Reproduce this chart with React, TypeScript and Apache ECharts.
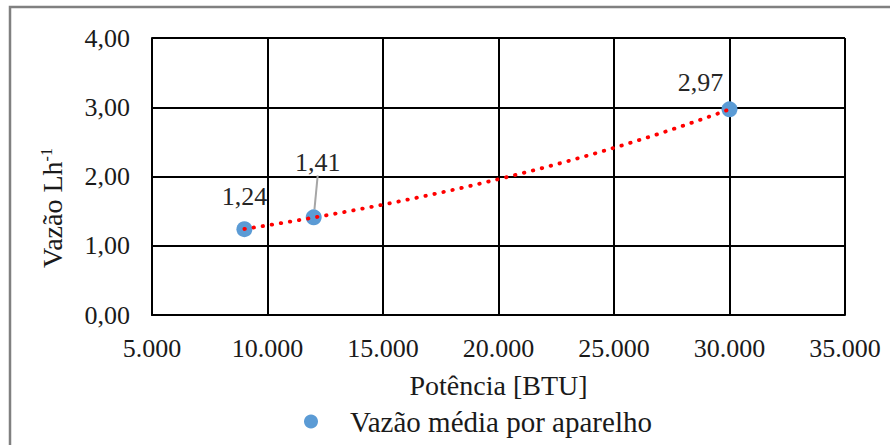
import React, { useEffect, useRef } from "react";
import * as echarts from "echarts";

const potenciaBTU = [9000, 12000, 30000];
const vazaoMedia = [1.24, 1.41, 2.97];
const xTicks = { min: 5000, max: 35000, interval: 5000 };
const yTicks = { min: 0, max: 4, interval: 1 };
const seriesName = "Vazão média por aparelho";
const xTitle = "Potência [BTU]";

const FONT = "'Liberation Serif', 'Times New Roman', serif";

// Exponential trendline (least-squares on ln y), as Excel draws it
function expTrend(xs: number[], ys: number[]) {
  const n = xs.length;
  const ly = ys.map((v) => Math.log(v));
  const mx = xs.reduce((a, b) => a + b, 0) / n;
  const my = ly.reduce((a, b) => a + b, 0) / n;
  let sxy = 0, sxx = 0;
  for (let i = 0; i < n; i++) {
    sxy += (xs[i] - mx) * (ly[i] - my);
    sxx += (xs[i] - mx) * (xs[i] - mx);
  }
  const k = sxy / sxx;
  const a = my - k * mx;
  const x0 = Math.min(...xs), x1 = Math.max(...xs);
  const pts: number[][] = [];
  const steps = 60;
  for (let i = 0; i <= steps; i++) {
    const x = x0 + ((x1 - x0) * i) / steps;
    pts.push([x, Math.exp(a + k * x)]);
  }
  return pts;
}

const fmtX = (v: number) => String(v).replace(/\B(?=(\d{3})+(?!\d))/g, ".");
const fmtY = (v: number) => v.toFixed(2).replace(".", ",");

export default function App() {
  const ref = useRef<HTMLDivElement>(null);
  useEffect(() => {
    document.body.style.margin = "0";
    const chart = echarts.init(ref.current!, null, { renderer: "svg" });
    const labelOffsets: Record<number, [number, number]> = {
      0: [0, 0],
      1: [4, -22],
      2: [-29, 6],
    };
    chart.setOption({
      animation: false,
      backgroundColor: "#ffffff",
      textStyle: { fontFamily: FONT },
      grid: { left: 152, top: 38, right: 45, bottom: 130 },
      xAxis: {
        type: "value",
        min: xTicks.min,
        max: xTicks.max,
        interval: xTicks.interval,
        name: xTitle,
        nameLocation: "middle",
        nameGap: 56,
        nameTextStyle: { fontFamily: FONT, fontSize: 28, color: "#1a1a1a" },
        axisLine: { show: true, lineStyle: { color: "#000", width: 2 } },
        axisTick: { show: false },
        axisLabel: { fontFamily: FONT, fontSize: 26, color: "#1a1a1a", margin: 20, formatter: fmtX },
        splitLine: { show: true, lineStyle: { color: "#000", width: 2 } },
      },
      yAxis: {
        type: "value",
        min: yTicks.min,
        max: yTicks.max,
        interval: yTicks.interval,
        axisLine: { show: true, lineStyle: { color: "#000", width: 2 } },
        axisTick: { show: false },
        axisLabel: { fontFamily: FONT, fontSize: 26, color: "#1a1a1a", margin: 22, formatter: fmtY },
        splitLine: { show: true, lineStyle: { color: "#000", width: 2 } },
      },
      legend: {
        data: [seriesName],
        left: 299,
        top: 402,
        itemWidth: 14,
        itemHeight: 14,
        icon: "circle",
        textStyle: { fontFamily: FONT, fontSize: 29, color: "#1a1a1a", padding: [0, 0, 0, 27] },
      },
      graphic: [
        {
          type: "rect",
          silent: true,
          shape: { x: 10, y: 7, width: 1000, height: 1000 },
          style: { fill: "none", stroke: "#808080", lineWidth: 2.5 },
          z: 100,
        },
        {
          type: "text",
          x: 52,
          y: 208,
          rotation: Math.PI / 2,
          style: {
            text: "{a|Vazão Lh}{s|-1}",
            align: "center",
            verticalAlign: "middle",
            fill: "#1a1a1a",
            rich: {
              a: { fontFamily: FONT, fontSize: 28, fill: "#1a1a1a", color: "#1a1a1a" },
              s: { fontFamily: FONT, fontSize: 16, fill: "#1a1a1a", color: "#1a1a1a", verticalAlign: "top", padding: [0, 0, 12, 0] },
            },
          },
        },
      ],
      series: [
        {
          name: seriesName,
          type: "scatter",
          symbol: "circle",
          symbolSize: 16,
          itemStyle: { color: "#5B9BD5", opacity: 1 },
          data: potenciaBTU.map((x, i) => ({
            value: [x, vazaoMedia[i]],
            labelLine: { show: i === 1, lineStyle: { color: "#A6A6A6", width: 2 } },
          })),
          label: {
            show: true,
            position: "top",
            distance: 12,
            fontFamily: FONT,
            fontSize: 26,
            color: "#262626",
            formatter: (p: any) => fmtY(p.value[1]),
          },
          labelLayout: (p: any) => {
            const o = labelOffsets[p.dataIndex] || [0, 0];
            return { dx: o[0], dy: o[1] };
          },
          labelLine: {
            show: false,
            lineStyle: { color: "#A6A6A6", width: 2 },
          },
          z: 2,
        },
        {
          name: "Tendência",
          type: "line",
          showSymbol: false,
          symbol: "none",
          smooth: false,
          data: expTrend(potenciaBTU, vazaoMedia),
          lineStyle: { color: "#FF0000", width: 3.8, type: [0.5, 8.7], cap: "round" },
          z: 3,
          silent: true,
        },
      ],
    });
    return () => chart.dispose();
  }, []);
  return <div ref={ref} style={{ width: 890, height: 445 }} />;
}
